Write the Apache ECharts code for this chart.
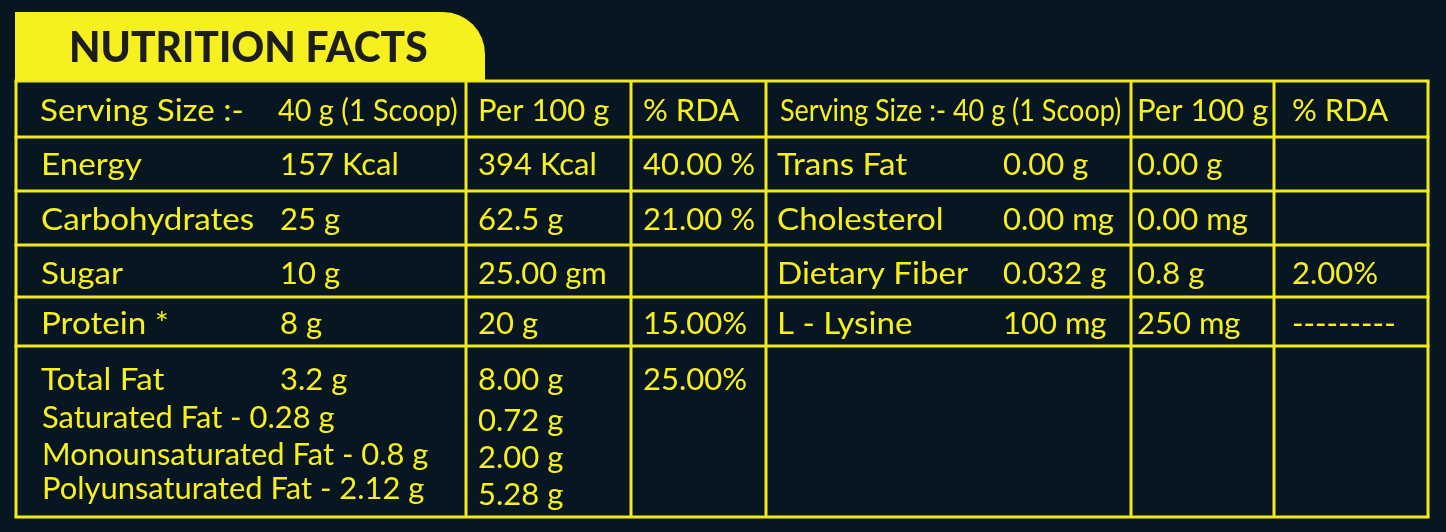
<!DOCTYPE html>
<html><head><meta charset="utf-8">
<script src="https://cdn.jsdelivr.net/npm/echarts@6/dist/echarts.min.js"></script>
<style>html,body{margin:0;padding:0;background:#071620;}#c{width:1446px;height:532px;}</style>
</head><body><div id="c"></div>
<script>
// ---------------- data ----------------
const title = 'NUTRITION FACTS';
const headerLeft = ['Serving Size :-', '40 g (1 Scoop)', 'Per 100 g', '% RDA'];
const headerRight = ['Serving Size :- 40 g (1 Scoop)', 'Per 100 g', '% RDA'];
const nutrientsLeft = ['Energy', 'Carbohydrates', 'Sugar', 'Protein *', 'Total Fat'];
const perServingLeft = ['157 Kcal', '25 g', '10 g', '8 g', '3.2 g'];
const per100Left = ['394 Kcal', '62.5 g', '25.00 gm', '20 g', '8.00 g'];
const rdaLeft = ['40.00 %', '21.00 %', '', '15.00%', '25.00%'];
const fatBreakdown = ['Saturated Fat - 0.28 g', 'Monounsaturated Fat - 0.8 g', 'Polyunsaturated Fat - 2.12 g'];
const fatBreakdownPer100 = ['0.72 g', '2.00 g', '5.28 g'];
const nutrientsRight = ['Trans Fat', 'Cholesterol', 'Dietary Fiber', 'L - Lysine'];
const perServingRight = ['0.00 g', '0.00 mg', '0.032 g', '100 mg'];
const per100Right = ['0.00 g', '0.00 mg', '0.8 g', '250 mg'];
const rdaRight = ['', '', '2.00%', '---------'];

// ---------------- layout (axis units) ----------------
const X0 = 16, X1 = 1428, Y0 = 81, Y1 = 517;
const colEdges = [16, 466, 631, 766, 1131, 1274, 1428];
const rowEdges = [81, 137, 191, 245, 297, 346, 517];
const rowMid = [109, 163, 218, 272, 322, 378];
const subMid = [416, 453, 487];
const subMid100 = [419, 456, 493];
const slot = {label: 40, serv: 278, p100: 478, rda: 643, rLabel: 777, rServ: 1003, rP100: 1137, rRda: 1292};
const YELLOW = '#f6f01e';
const LINE = '#eeea1c';
const FONT = 'Lato';
const KIND = {
  n:    {size: 31, sx: 1.0},
  lab:  {size: 31, sx: 1.07},
  sub:  {size: 30, sx: 1.03},
  fit:  {size: 31, sx: 0.93},
  cond: {size: 30, sx: 0.9}
};

// build text items
const cells = [];
function add(x, y, text, kind) { if (text) cells.push({value: [x, y], text: text, kind: kind || 'n'}); }
add(slot.label, rowMid[0], headerLeft[0], 'lab');
add(slot.serv, rowMid[0], headerLeft[1], 'fit');
add(slot.p100, rowMid[0], headerLeft[2]);
add(slot.rda, rowMid[0], headerLeft[3]);
add(780, rowMid[0], headerRight[0], 'cond');
add(slot.rP100, rowMid[0], headerRight[1]);
add(slot.rRda, rowMid[0], headerRight[2]);
nutrientsLeft.forEach((t, i) => {
  const y = rowMid[i + 1];
  add(slot.label + 1, y, t, 'lab');
  add(slot.serv + 2, y, perServingLeft[i]);
  add(slot.p100, y, per100Left[i]);
  add(slot.rda, y, rdaLeft[i]);
});
nutrientsRight.forEach((t, i) => {
  const y = rowMid[i + 1];
  add(slot.rLabel, y, t, 'lab');
  add(slot.rServ, y, perServingRight[i]);
  add(slot.rP100, y, per100Right[i]);
  add(slot.rRda, y, rdaRight[i]);
});
fatBreakdown.forEach((t, i) => add(slot.label + 2, subMid[i], t, 'sub'));
fatBreakdownPer100.forEach((t, i) => add(slot.p100, subMid100[i], t));

const chart = echarts.init(document.getElementById('c'));
chart.setOption({
  backgroundColor: '#071620',
  animation: false,
  grid: {left: X0, right: 1446 - X1, top: Y0, bottom: 532 - Y1},
  xAxis: {type: 'value', min: X0, max: X1, show: false},
  yAxis: {type: 'value', min: Y0, max: Y1, inverse: true, show: false},
  series: [
    {
      type: 'custom', name: 'frame', silent: true, clip: false,
      data: [[X0, Y0]],
      renderItem: function (params, api) {
        const ch = [];
        const tl = api.coord([X0 - 1, 12]);
        const br = api.coord([485, Y0 + 1]);
        ch.push({type: 'rect', shape: {x: tl[0], y: tl[1], width: br[0] - tl[0], height: br[1] - tl[1], r: [0, 42, 0, 0]},
          style: {fill: YELLOW}});
        const tp = api.coord([69, 47]);
        ch.push({type: 'text', x: tp[0], y: tp[1] + 1, scaleX: 0.97,
          style: {text: title, fill: '#1d1d1b', font: '900 42px ' + FONT, verticalAlign: 'middle', align: 'left'}});
        colEdges.forEach(x => {
          const a = api.coord([x, Y0]), b = api.coord([x, Y1]);
          ch.push({type: 'line', shape: {x1: a[0], y1: a[1], x2: b[0], y2: b[1]}, style: {stroke: LINE, lineWidth: 3}});
        });
        rowEdges.forEach(y => {
          const a = api.coord([X0, y]), b = api.coord([X1, y]);
          ch.push({type: 'line', shape: {x1: a[0] - 1.5, y1: a[1], x2: b[0] + 1.5, y2: b[1]}, style: {stroke: LINE, lineWidth: 3}});
        });
        return {type: 'group', children: ch};
      }
    },
    {
      type: 'custom', name: 'cells', silent: true, clip: false,
      data: cells,
      renderItem: function (params, api) {
        const c = cells[params.dataIndex];
        const k = KIND[c.kind];
        const p = api.coord([api.value(0), api.value(1)]);
        return {type: 'text', x: p[0], y: p[1] + 2, scaleX: k.sx,
          style: {text: c.text, fill: YELLOW, font: k.size + 'px ' + FONT, verticalAlign: 'middle', align: 'left'}};
      }
    }
  ]
});
</script></body></html>
